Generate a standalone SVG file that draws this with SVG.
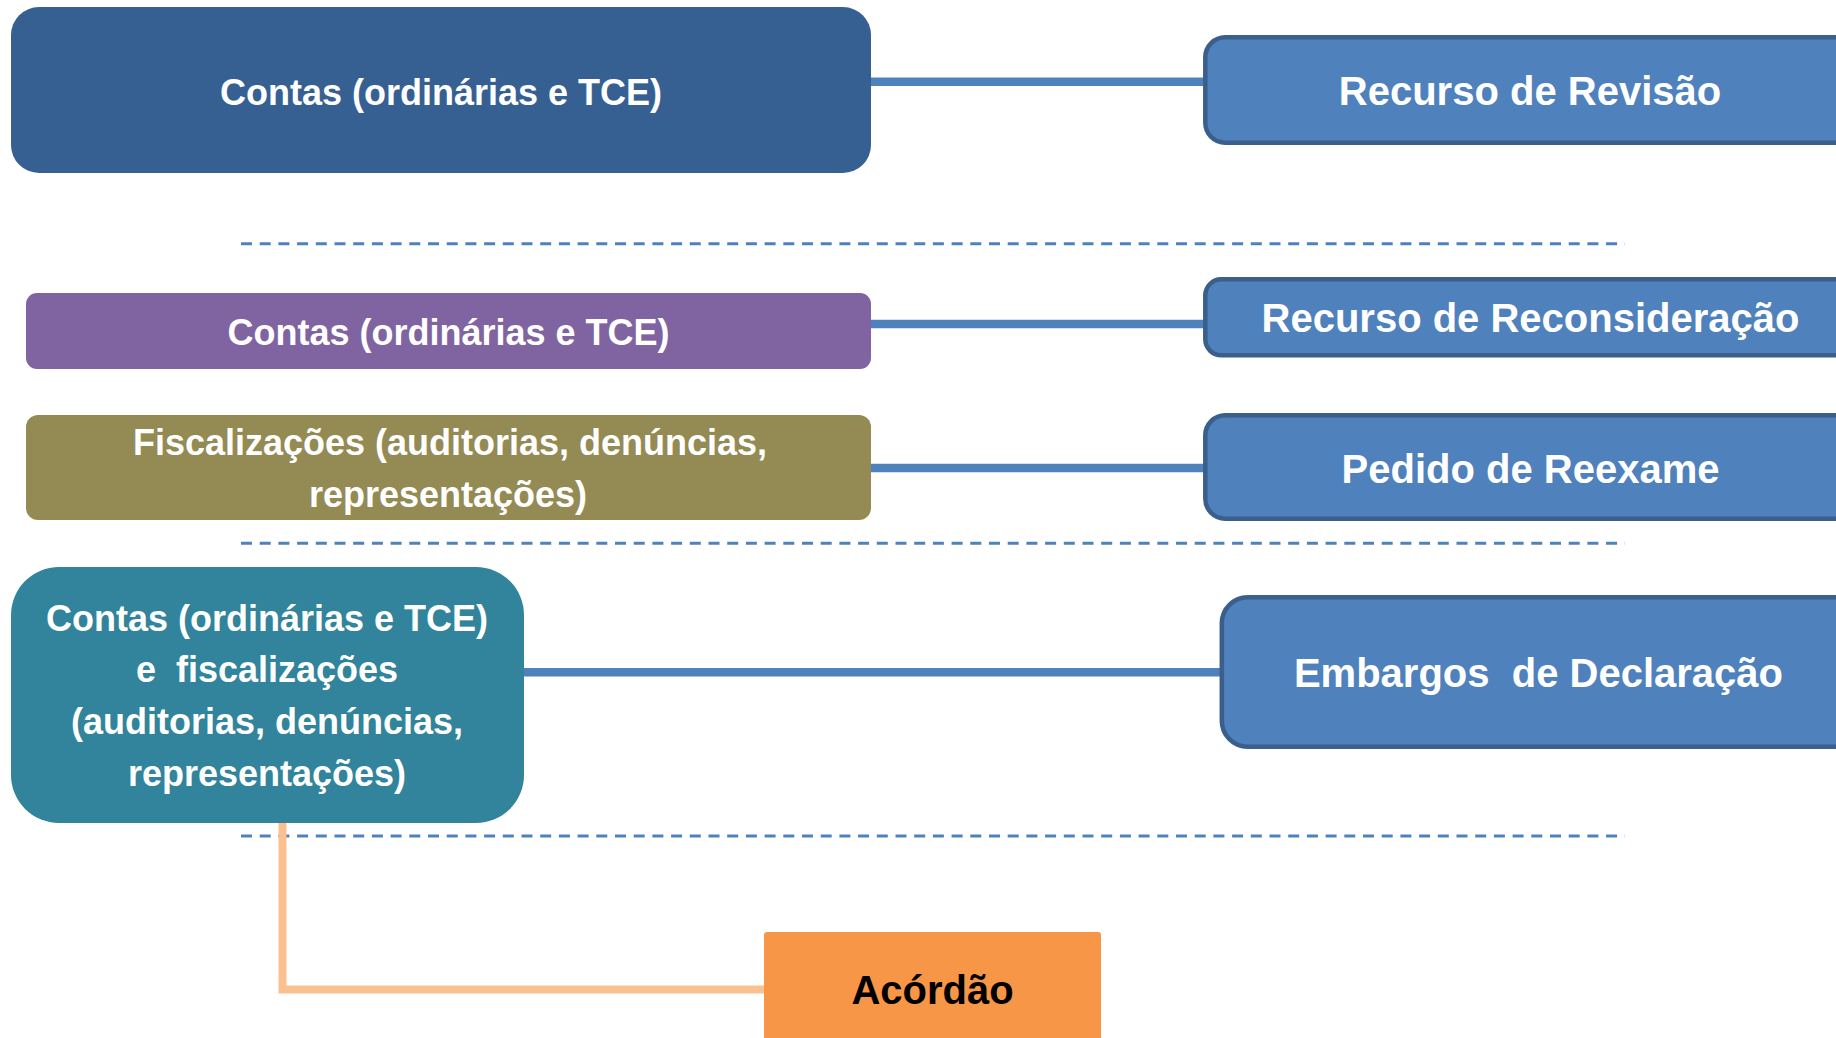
<svg xmlns="http://www.w3.org/2000/svg" width="1836" height="1038" viewBox="0 0 1836 1038">
  <style>
    .lbl { font-family: "Liberation Sans", Arial, sans-serif; font-weight: bold; fill: #ffffff; text-anchor: middle; white-space: pre; }
    .l36 { font-size: 36px; }
    .l40 { font-size: 40px; }
    .dark { fill: #000000; }
    .rbox { fill: #4F81BD; stroke: #3A5F8B; stroke-width: 4.5; }
    .conn { stroke: #4F81BD; stroke-width: 8.5; fill: none; }
    .sep { stroke: #4F81BD; stroke-width: 3; stroke-dasharray: 11 7.7; fill: none; }
    .oconn { stroke: #FAC090; stroke-width: 8; fill: none; }
  </style>
  <rect width="1836" height="1038" fill="#ffffff"/>

  <g id="separators">
    <line class="sep" x1="241" y1="243.7" x2="1625" y2="243.7"/>
    <line class="sep" x1="241" y1="543.3" x2="1625" y2="543.3"/>
    <line class="sep" x1="241" y1="836" x2="1625" y2="836"/>
  </g>

  <g id="connectors">
    <line class="conn" x1="870" y1="81.7" x2="1205" y2="81.7"/>
    <line class="conn" x1="870" y1="324" x2="1205" y2="324"/>
    <line class="conn" x1="870" y1="468" x2="1205" y2="468"/>
    <line class="conn" x1="523" y1="672.3" x2="1234" y2="672.3"/>
    <polyline class="oconn" points="282.5,823 282.5,989.5 764,989.5"/>
  </g>

  <g id="contas-revisao">
    <rect x="11" y="7" width="860" height="166" rx="28" ry="28" fill="#366092"/>
    <text class="lbl l36" x="441" y="105">Contas (ordinárias e TCE)</text>
  </g>

  <g id="contas-reconsideracao">
    <rect x="26" y="293" width="845" height="76" rx="11" ry="11" fill="#8064A2"/>
    <text class="lbl l36" x="448.5" y="345">Contas (ordinárias e TCE)</text>
  </g>

  <g id="fiscalizacoes">
    <rect x="26" y="415" width="845" height="105" rx="12" ry="12" fill="#948A54"/>
    <text class="lbl l36" x="450" y="455">Fiscalizações (auditorias, denúncias,</text>
    <text class="lbl l36" x="448" y="507">representações)</text>
  </g>

  <g id="contas-fiscalizacoes">
    <rect x="11" y="567" width="513" height="256" rx="48" ry="48" fill="#31849B"/>
    <text class="lbl l36" x="267" y="630.7">Contas (ordinárias e TCE)</text>
    <text class="lbl l36" x="267" y="682.3">e  fiscalizações</text>
    <text class="lbl l36" x="267" y="734">(auditorias, denúncias,</text>
    <text class="lbl l36" x="267" y="785.7">representações)</text>
  </g>

  <g id="recurso-revisao">
    <rect class="rbox" x="1205.3" y="37.3" width="660" height="105.5" rx="20" ry="20"/>
    <text class="lbl l40" x="1530" y="105">Recurso de Revisão</text>
  </g>

  <g id="recurso-reconsideracao">
    <rect class="rbox" x="1205.3" y="279.3" width="660" height="76" rx="16" ry="16"/>
    <text class="lbl l40" x="1530.5" y="332">Recurso de Reconsideração</text>
  </g>

  <g id="pedido-reexame">
    <rect class="rbox" x="1205.3" y="415.3" width="660" height="103.5" rx="20" ry="20"/>
    <text class="lbl l40" x="1530.5" y="483">Pedido de Reexame</text>
  </g>

  <g id="embargos">
    <rect class="rbox" x="1221.8" y="597.3" width="650" height="149.5" rx="26" ry="26"/>
    <text class="lbl l40" x="1538.5" y="687">Embargos  de Declaração</text>
  </g>

  <g id="acordao">
    <rect x="764" y="932" width="337" height="120" rx="3" ry="3" fill="#F79646"/>
    <text class="lbl l40 dark" x="932.5" y="1004">Acórdão</text>
  </g>
</svg>
